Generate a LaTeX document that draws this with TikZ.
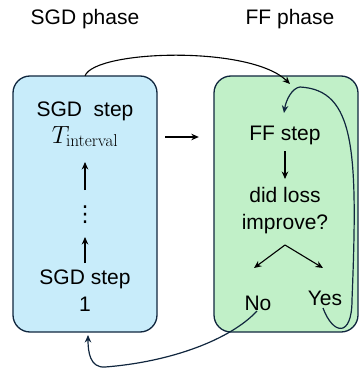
\documentclass[tikz,border=0pt]{standalone}
\usepackage{amsmath}
\usepackage[no-math]{fontspec}
\setmainfont{Liberation Sans}
\newfontfamily\symfont{DejaVu Sans}
\usepackage{tikz}
\usetikzlibrary{positioning}
\usetikzlibrary{arrows.meta}
\definecolor{sgdblue}{RGB}{200,236,250}
\definecolor{ffgreen}{RGB}{193,240,200}
\definecolor{navyline}{RGB}{16,38,62}
\tikzset{
	phasebox/.style={draw=navyline, line width=1.3pt, rounded corners=17pt},
	txt/.style={font=\fontsize{21}{25}\selectfont, inner sep=0pt, anchor=base},
	arr/.style={-{Stealth[length=7.5pt,width=6.5pt]}, line width=1.1pt},
	loopline/.style={-{Stealth[length=7.5pt,width=6.5pt]}, line width=1.2pt, draw=navyline}
}

\begin{document}
\begin{tikzpicture}[x=1pt, y=-1pt]
	\useasboundingbox (0, 0) rectangle (359, 374);
	
	% phase titles
	\node[txt] (sgdhead) at (85, 25) {SGD phase};
	\node[txt] (ffhead) at (290, 25) {FF phase};
	
	% the two phases
	\draw[phasebox, fill=sgdblue] (13, 76) rectangle (157, 332);
	\draw[phasebox, fill=ffgreen] (214, 76) rectangle (358, 332);
	\node[inner sep=0pt, minimum width=144pt, minimum height=256pt] (sgdbox) at (85, 204) {};
	\node[inner sep=0pt, minimum width=144pt, minimum height=256pt] (ffbox) at (286, 204) {};
	
	% SGD steps
	\node[txt] (sgdtop) at (85, 117) {SGD\ \ step};
	\node[txt, font=\fontsize{26}{30}\selectfont] (tint) at (85, 143) {$T_{\mathrm{interval}}$};
	\node[txt, font=\symfont\fontsize{22}{26}\selectfont] (sgddots) at (85, 221) {⋮};
	\node[txt] (sgdbot) at (85, 284) {SGD step};
	\node[txt] (sgdone) at (85, 311) {1};
	\draw[arr] (85, 190) coordinate (up1s) -- (85, 162) coordinate (up1e);
	\draw[arr] (85, 263) coordinate (up2s) -- (85, 237) coordinate (up2e);
	
	% FF steps
	\node[txt] (ffstep) at (285, 140) {FF step};
	\node[txt] (didloss) at (285, 202) {did loss};
	\node[txt] (improve) at (285, 229) {improve?};
	\node[txt] (no) at (258, 310) {No};
	\node[txt] (yes) at (325, 305) {Yes};
	\coordinate (split) at (285, 245);
	\coordinate (notip) at (254, 268);
	\coordinate (yestip) at (323, 268);
	\draw[arr] (285, 151) coordinate (ffdown) -- (285, 179) coordinate (ffdowne);
	\draw[arr] (split) -- (notip);
	\draw[arr] (split) -- (yestip);
	
	% between the phases
	\draw[arr] ([xshift=8pt]sgdbox.east |- 0, 137) coordinate (mids) -- ([xshift=-15pt]ffbox.west |- 0, 137) coordinate (mide);
	\coordinate (topend) at (290, 84);
	\draw[arr] (sgdbox.north) .. controls (95, 50) and (250, 45) .. (topend);
	
	% yes: back to FF step
	\coordinate (yesfoot) at (323, 308);
	\coordinate (ffentry) at (284, 113);
	\draw[loopline] (yesfoot) .. controls (333, 335) and (352, 338) .. (352, 300)
		.. controls (358, 150) and (355, 90) .. (300, 87)
		.. controls (292, 88) and (286, 100) .. (ffentry);
	
	% no: back to SGD
	\coordinate (nofoot) at (257, 311);
	\coordinate (sgdentry) at (88, 335);
	\draw[loopline] (nofoot) .. controls (230, 340) and (170, 362) .. (105, 367)
		.. controls (90, 368) and (88, 352) .. (sgdentry);
\end{tikzpicture}
\end{document}
